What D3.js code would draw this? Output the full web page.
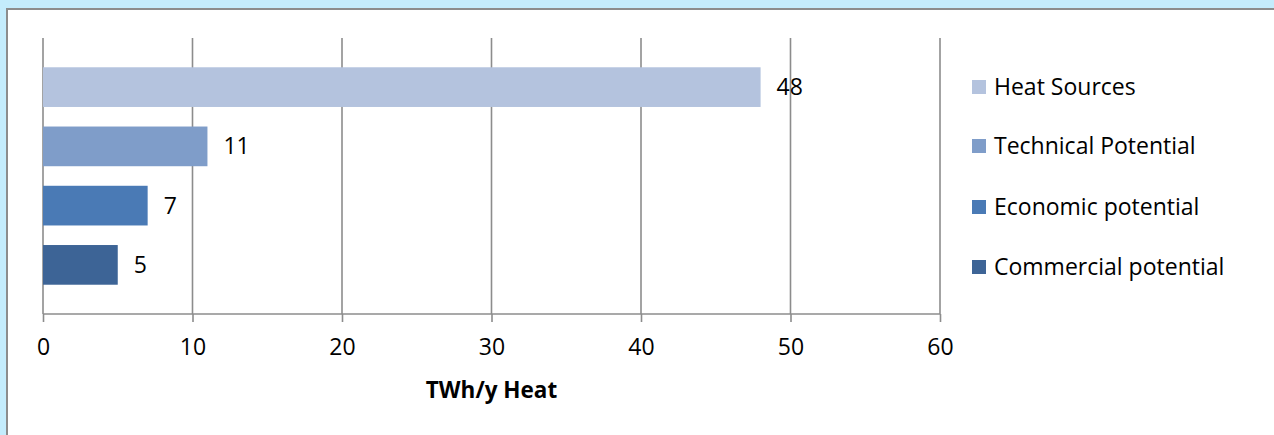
<!DOCTYPE html>
<html>
<head>
<meta charset="utf-8">
<script src="https://cdn.jsdelivr.net/npm/d3@7"></script>
<style>
  html, body { margin: 0; padding: 0; background: #c4ecfc; }
  svg { display: block; font-family: "Open Sans", sans-serif; }
</style>
</head>
<body>
<div id="chart"></div>
<script>
const categories = ["Heat Sources", "Technical Potential", "Economic potential", "Commercial potential"];
const values = [48, 11, 7, 5];
const colors = ["#b4c3de", "#7f9dc9", "#4a7ab5", "#3d6496"];
const xTicks = [0, 10, 20, 30, 40, 50, 60];
const xTitle = "TWh/y Heat";

const width = 1274, height = 435;

const root = d3.select("#chart").append("svg")
  .attr("width", width)
  .attr("height", height);

// frame
root.append("rect")
  .attr("x", 7).attr("y", 9)
  .attr("width", width).attr("height", height)
  .attr("fill", "#fff")
  .attr("stroke", "#8c8c8c")
  .attr("stroke-width", 2);

const x = d3.scaleLinear().domain([0, 60]).range([43, 940]);
const y = d3.scaleBand().domain(categories).range([57.5, 294.5]).paddingInner(0.33).paddingOuter(0.165);
const plotTop = 38, plotBottom = 314;

// gridlines
root.append("g")
  .selectAll("line")
  .data(xTicks)
  .join("line")
  .attr("x1", d => x(d)).attr("x2", d => x(d))
  .attr("y1", plotTop).attr("y2", plotBottom)
  .attr("stroke", "#8c8c8c")
  .attr("stroke-width", 1.6);

// bars
root.append("g")
  .selectAll("rect")
  .data(categories)
  .join("rect")
  .attr("x", x(0))
  .attr("y", d => y(d))
  .attr("width", (d, i) => x(values[i]) - x(0))
  .attr("height", y.bandwidth())
  .attr("fill", (d, i) => colors[i]);

// value labels
root.append("g")
  .selectAll("text")
  .data(categories)
  .join("text")
  .attr("x", (d, i) => x(values[i]) + 16)
  .attr("y", d => y(d) + y.bandwidth() / 2)
  .attr("dy", "0.35em")
  .style("font-size", "23px")
  .attr("fill", "#000")
  .text((d, i) => values[i]);

// x axis
const axis = root.append("g")
  .attr("transform", `translate(0,${plotBottom})`)
  .call(d3.axisBottom(x).tickValues(xTicks).tickSize(8).tickPadding(17));
axis.select(".domain")
  .attr("stroke", "#8c8c8c")
  .attr("stroke-width", 1.6)
  .attr("d", `M${x(0)},0H${x(60)}`);
axis.selectAll(".tick line").attr("stroke", "#8c8c8c").attr("stroke-width", 1.6);
axis.selectAll(".tick text")
  .attr("fill", "#000")
  .style("font-family", "'Open Sans', sans-serif")
  .style("font-size", "23px");

root.append("text")
  .attr("x", (x(0) + x(60)) / 2)
  .attr("y", 390)
  .attr("dy", "0.35em")
  .attr("text-anchor", "middle")
  .style("font-size", "22.5px")
  .style("font-weight", "bold")
  .text(xTitle);

// legend
const legendY = [87, 146, 207, 267];
const legend = root.append("g")
  .selectAll("g")
  .data(categories)
  .join("g")
  .attr("transform", (d, i) => `translate(972,${legendY[i]})`);
legend.append("rect")
  .attr("x", 0).attr("y", -7)
  .attr("width", 14).attr("height", 14)
  .attr("fill", (d, i) => colors[i]);
legend.append("text")
  .attr("x", 22)
  .attr("dy", "0.35em")
  .style("font-size", "23px")
  .text(d => d);
</script>
</body>
</html>
